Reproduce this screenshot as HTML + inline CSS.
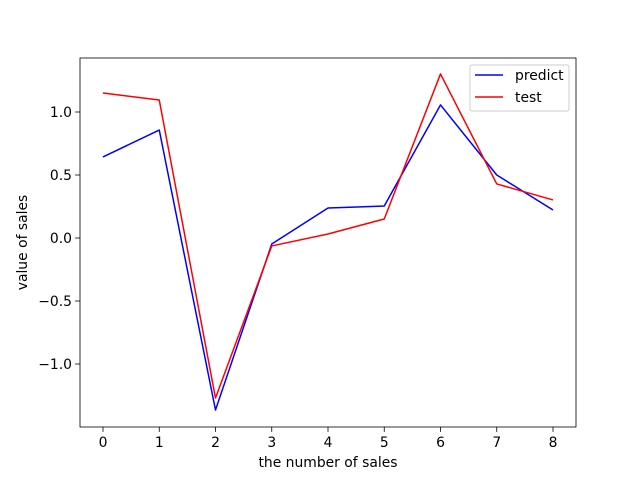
<!DOCTYPE html>
<html><head><meta charset="utf-8"><style>
body{margin:0;background:#fff;}
svg{font-family:"DejaVu Sans","Liberation Sans",sans-serif;}
</style></head><body>
<svg id="chart" width="640" height="480" xmlns="http://www.w3.org/2000/svg">
<rect width="640" height="480" fill="#fff"/>
<g id="plot"></g>
</svg>
<script>
const categories=[0,1,2,3,4,5,6,7,8];
const predictValues=[0.643,0.857,-1.365,-0.048,0.238,0.254,1.056,0.5,0.222];
const testValues=[1.151,1.095,-1.27,-0.063,0.032,0.151,1.302,0.429,0.302];
const xTicks=[0,1,2,3,4,5,6,7,8];
const yTicks=[-1.0,-0.5,0.0,0.5,1.0];
const yTickLabels=["\u22121.0","\u22120.5","0.0","0.5","1.0"];
const NS="http://www.w3.org/2000/svg";
const g=document.getElementById('plot');
const L=80,R=576,T=58,B=427;
const FS=13.9;
function xs(v){return 103+(v-0)*(553-103)/8;}
function ys(v){return 238-v*126;}
function mk(t,a,p){const e=document.createElementNS(NS,t);for(const k in a)e.setAttribute(k,a[k]);(p||g).appendChild(e);return e;}
function line(vals,color,name){
  const pts=vals.map((v,i)=>xs(categories[i])+','+ys(v)).join(' ');
  const e=mk('polyline',{points:pts,fill:'none',stroke:color,'stroke-width':1.5,'stroke-linejoin':'round'});
  
  
}
line(predictValues,'#0000ff','predict-line');
line(testValues,'#ff0000','test-line');
const frame=mk('rect',{x:L,y:T,width:R-L,height:B-T,fill:'none',stroke:'#000','stroke-width':0.8});


xTicks.forEach(v=>{
  mk('line',{x1:xs(v),x2:xs(v),y1:B,y2:B+4.9,stroke:'#000','stroke-width':0.8});
  const t=mk('text',{x:xs(v),y:B+20,'text-anchor':'middle','font-size':FS});
  t.textContent=v;
  
  
});
yTicks.forEach((v,i)=>{
  mk('line',{x1:L-4.9,x2:L,y1:ys(v),y2:ys(v),stroke:'#000','stroke-width':0.8});
  const t=mk('text',{x:L-8,y:ys(v)+5,'text-anchor':'end','font-size':FS});
  t.textContent=yTickLabels[i];
  
  
});
const xt=mk('text',{x:(L+R)/2,y:467,'text-anchor':'middle','font-size':FS});
xt.textContent='the number of sales';


const yt=mk('text',{x:27,y:(T+B)/2,'text-anchor':'middle','font-size':FS,transform:'rotate(-90 27 '+((T+B)/2)+')'});
yt.textContent='value of sales';


const lg=mk('g',{});


mk('rect',{x:470,y:65,width:99,height:46,rx:2,fill:'#fff',stroke:'#ccc','stroke-width':1},lg);
[['predict','#0000ff',75],['test','#ff0000',97]].forEach(([n,c,y])=>{
  mk('line',{x1:475,x2:503,y1:y,y2:y,stroke:c,'stroke-width':1.5},lg);
  const t=mk('text',{x:515,y:y+5,'font-size':FS},lg);
  t.textContent=n;
  
  
});
</script>
</body></html>
